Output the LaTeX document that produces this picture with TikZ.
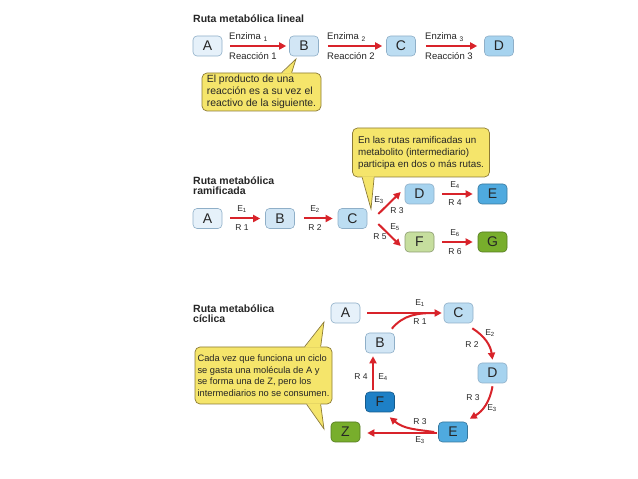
\documentclass[tikz,border=0pt]{standalone}
\usepackage{fontspec}
\setmainfont{Liberation Sans}
\usetikzlibrary{arrows.meta,calc}

\definecolor{rojo}{HTML}{D8232A}
\definecolor{borde}{HTML}{8FAFC8}
\definecolor{azulA}{HTML}{E6F1FA}
\definecolor{azulB}{HTML}{D2E6F5}
\definecolor{azulC}{HTML}{BCDDF2}
\definecolor{azulD}{HTML}{A6D3EF}
\definecolor{azulE}{HTML}{4FAADF}
\definecolor{azulF}{HTML}{1E80C6}
\definecolor{verdeF}{HTML}{C6DE9E}
\definecolor{verdeG}{HTML}{78AE2C}
\definecolor{amarillo}{HTML}{F5E56B}
\definecolor{oliva}{HTML}{8C7B35}
\definecolor{texto}{HTML}{262626}

\begin{document}
\begin{tikzpicture}[x=1pt,y=1pt,
    metab/.style={draw=borde, line width=0.6pt, rounded corners=4pt, minimum width=29pt,
      minimum height=20pt, inner sep=0pt, text=texto, font=\fontsize{14}{14}\selectfont},
    flecha/.style={draw=rojo, line width=2pt, -{Triangle[length=7pt,width=7pt]}},
    curva/.style={draw=rojo, line width=2pt},
    lbl/.style={text=texto, inner sep=0pt, font=\fontsize{9.5}{10}\selectfont},
    etiq/.style={text=texto, inner sep=0pt, font=\fontsize{8.5}{9}\selectfont},
    titulo/.style={text=texto, inner sep=0pt, align=left, font=\bfseries\fontsize{10.5}{9.5}\selectfont},
    nota/.style={fill=amarillo, draw=oliva, line width=0.7pt, rounded corners=5pt, align=left,
      text=texto, inner sep=0pt},
    pico/.style={draw=oliva, line width=0.7pt}]

  \useasboundingbox (0,0) rectangle (638,479);

  % ruta lineal
  \node[titulo, anchor=west] (tit1) at (193,460) {Ruta metabólica lineal};
  \node[metab, fill=azulA] (A1) at (207.5,433) {A};
  \node[metab, fill=azulB] (B1) at (304,433) {B};
  \node[metab, fill=azulC] (C1) at (401,433) {C};
  \node[metab, fill=azulD] (D1) at (499,433) {D};
  \draw[flecha] ($(A1.east)+(8,0)$) -- ($(B1.west)+(-3,0)$);
  \draw[flecha] ($(B1.east)+(9,0)$) -- ($(C1.west)+(-4,0)$);
  \draw[flecha] ($(C1.east)+(10,0)$) -- ($(D1.west)+(-7,0)$);
  \node[lbl, anchor=west] (enz1) at (229,442) {Enzima \textsubscript{1}};
  \node[lbl, anchor=west] (rea1) at (229,423) {Reacción 1};
  \node[lbl, anchor=west] (enz2) at (327,442) {Enzima \textsubscript{2}};
  \node[lbl, anchor=west] (rea2) at (327,423) {Reacción 2};
  \node[lbl, anchor=west] (enz3) at (425,442) {Enzima \textsubscript{3}};
  \node[lbl, anchor=west] (rea3) at (425,423) {Reacción 3};

  \node[nota, minimum width=119pt, minimum height=38pt, font=\fontsize{10.4}{12}\selectfont] (nota1) at (261.5,387)
    {El producto de una\\reacción es a su vez el\\reactivo de la siguiente.};
  \coordinate (p1) at (296,420);
  \fill[amarillo] ($(nota1.north west)+(80,-1)$) -- (p1) -- ($(nota1.north west)+(90,-1)$) -- cycle;
  \draw[pico] ($(nota1.north west)+(80,0)$) -- (p1) -- ($(nota1.north west)+(90,0)$);

  % ruta ramificada
  \node[nota, minimum width=137pt, minimum height=49pt, font=\fontsize{9.8}{12}\selectfont] (nota2) at (421,326.5)
    {En las rutas ramificadas un\\metabolito (intermediario)\\participa en dos o más rutas.};
  \coordinate (p2) at (371,270);
  \fill[amarillo] ($(nota2.south west)+(10,1)$) -- (p2) -- ($(nota2.south west)+(22,1)$) -- cycle;
  \draw[pico] ($(nota2.south west)+(10,0)$) -- (p2) -- ($(nota2.south west)+(22,0)$);

  \node[titulo, anchor=north west] (tit2) at (193,302) {Ruta metabólica\\ramificada};
  \node[metab, fill=azulA] (A2) at (207.5,260.5) {A};
  \node[metab, fill=azulB] (B2) at (280,260.5) {B};
  \node[metab, fill=azulC] (C2) at (352.5,260.5) {C};
  \node[metab, fill=azulD] (D2) at (419.5,285) {D};
  \node[metab, fill=azulE, draw=azulE!70!black] (E2) at (492.5,285) {E};
  \node[metab, fill=verdeF, draw=verdeF!70!black] (F2) at (419.5,237) {F};
  \node[metab, fill=verdeG, draw=verdeG!70!black] (G2) at (492.5,237) {G};
  \draw[flecha] ($(A2.east)+(8,0)$) -- ($(B2.west)+(-5,0)$);
  \draw[flecha] ($(B2.east)+(9,0)$) -- ($(C2.west)+(-5,0)$);
  \draw[flecha] ($(C2.east)+(11,4.5)$) -- ($(D2.west)+(-4,2)$);
  \draw[flecha] ($(C2.east)+(11,-5.5)$) -- ($(F2.west)+(-4,-4)$);
  \draw[flecha] ($(D2.east)+(8,0)$) -- ($(E2.west)+(-5,0)$);
  \draw[flecha] ($(F2.east)+(8,0)$) -- ($(G2.west)+(-5,0)$);
  \node[etiq] (e21) at (242,270) {E\textsubscript{1}};
  \node[etiq] (r21) at (242,251) {R 1};
  \node[etiq] (e22) at (315,270) {E\textsubscript{2}};
  \node[etiq] (r22) at (315,251) {R 2};
  \node[etiq] (e23) at (379,279) {E\textsubscript{3}};
  \node[etiq] (r23) at (397,268) {R 3};
  \node[etiq] (e25) at (395,252) {E\textsubscript{5}};
  \node[etiq] (r25) at (380,242) {R 5};
  \node[etiq] (e24) at (455,294) {E\textsubscript{4}};
  \node[etiq] (r24) at (455,276) {R 4};
  \node[etiq] (e26) at (455,246) {E\textsubscript{6}};
  \node[etiq] (r26) at (455,227) {R 6};

  % ruta ciclica
  \node[titulo, anchor=north west] (tit3) at (193,174) {Ruta metabólica\\cíclica};
  \node[metab, fill=azulA] (A3) at (345.5,166) {A};
  \node[metab, fill=azulC] (C3) at (458.5,166) {C};
  \node[metab, fill=azulB] (B3) at (380,136) {B};
  \node[metab, fill=azulD] (D3) at (492.5,106) {D};
  \node[metab, fill=azulF, draw=azulF!70!black] (F3) at (380,77) {F};
  \node[metab, fill=azulE, draw=azulE!70!black] (E3) at (453,47) {E};
  \node[metab, fill=verdeG, draw=verdeG!70!black] (Z3) at (345.5,47) {Z};
  \draw[flecha] ($(A3.east)+(7,0)$) -- ($(C3.west)+(-2,0)$);
  \draw[curva] ($(B3.north east)+(-3,4)$) to[out=50,in=180] ($(C3.west)+(-8,0)$);
  \draw[flecha] ($(C3.south east)+(-1,-5)$) to[bend left=25] ($(D3.north)+(0,3)$);
  \draw[flecha] ($(D3.south)+(0,-3)$) to[bend left=25] ($(E3.north east)+(2,3)$);
  \draw[flecha] ($(E3.west)+(-1,-1)$) -- ($(Z3.east)+(7,-1)$);
  \draw[flecha] ($(E3.west)+(-4,0)$) to[out=172,in=-40] ($(F3.south east)+(-5,-5)$);
  \draw[flecha] ($(F3.north)+(-7,2)$) -- ($(B3.south)+(-7,-3)$);
  \node[etiq] (e31) at (420,176) {E\textsubscript{1}};
  \node[etiq] (r31) at (420,157) {R 1};
  \node[etiq] (e32) at (490,146) {E\textsubscript{2}};
  \node[etiq] (r32) at (472,134) {R 2};
  \node[etiq] (r33) at (473,81) {R 3};
  \node[etiq] (e33) at (492,71) {E\textsubscript{3}};
  \node[etiq] (r35) at (420,57) {R 3};
  \node[etiq] (e35) at (420,39) {E\textsubscript{3}};
  \node[etiq] (r34) at (361,102) {R 4};
  \node[etiq] (e34) at (383,102) {E\textsubscript{4}};

  \node[nota, minimum width=137pt, minimum height=57pt, font=\fontsize{9.3}{11.5}\selectfont] (nota3) at (263.5,103.5)
    {Cada vez que funciona un ciclo\\se gasta una molécula de A y\\se forma una de Z, pero los\\intermediarios no se consumen.};
  \coordinate (p3) at (324,157);
  \coordinate (p4) at (324,50);
  \fill[amarillo] ($(nota3.north west)+(110,-1)$) -- (p3) -- ($(nota3.north west)+(126,-1)$) -- cycle;
  \draw[pico] ($(nota3.north west)+(110,0)$) -- (p3) -- ($(nota3.north west)+(126,0)$);
  \fill[amarillo] ($(nota3.south west)+(112,1)$) -- (p4) -- ($(nota3.south west)+(126,1)$) -- cycle;
  \draw[pico] ($(nota3.south west)+(112,0)$) -- (p4) -- ($(nota3.south west)+(126,0)$);
\end{tikzpicture}
\end{document}
